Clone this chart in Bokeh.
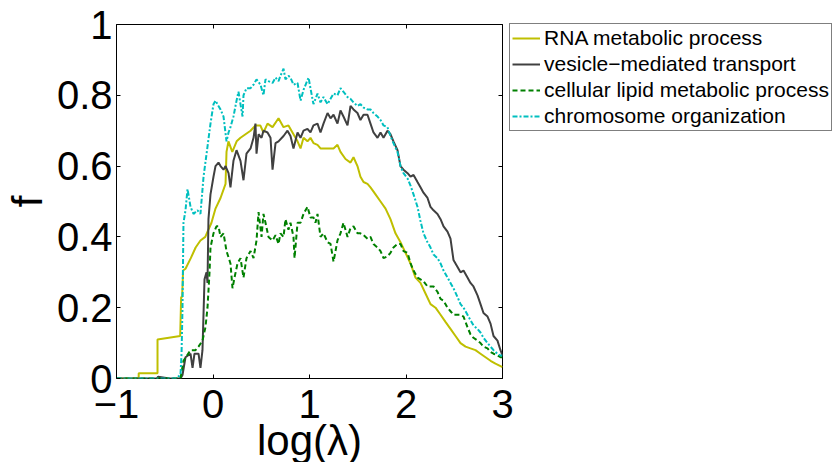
from bokeh.plotting import figure
from bokeh.models import (LinearAxis, FixedTicker, NumeralTickFormatter, Legend,
                          LegendItem, Range1d)
from bokeh.embed import file_html
from bokeh.resources import INLINE

FONT = "Liberation Sans"

# ---------------- data ----------------
series_names = ["RNA metabolic process", "vesicle\u2212mediated transport",
                "cellular lipid metabolic process", "chromosome organization"]
x_label = "log(\u03bb)"
y_label = "f"
x_ticks = [-1, 0, 1, 2, 3]
y_ticks = [0, 0.2, 0.4, 0.6, 0.8, 1]

rna_x = [-1.0, -0.77, -0.77, -0.575, -0.575, -0.34, -0.33, -0.32, -0.31, -0.285,
         -0.23, -0.18, -0.13, -0.08, -0.016, 0.026, 0.078, 0.13, 0.14, 0.16,
         0.20, 0.245, 0.285, 0.337, 0.389, 0.44, 0.49, 0.523, 0.565, 0.617,
         0.679, 0.731, 0.782, 0.834, 0.876, 0.907, 0.938, 0.979, 1.01, 1.041,
         1.083, 1.114, 1.187, 1.249, 1.29, 1.321, 1.373, 1.425, 1.456, 1.497,
         1.528, 1.56, 1.601, 1.632, 1.684, 1.736, 1.788, 1.839, 1.891, 1.943,
         1.995, 2.047, 2.098, 2.15, 2.202, 2.254, 2.306, 2.358, 2.409, 2.461,
         2.513, 2.565, 2.617, 2.668, 2.72, 2.772, 2.824, 2.876, 2.927, 3.0]
rna_y = [0, 0, 0.015, 0.015, 0.11, 0.12, 0.23, 0.23, 0.305, 0.31,
         0.34, 0.37, 0.39, 0.40, 0.44, 0.48, 0.51, 0.55, 0.64, 0.67,
         0.64, 0.67, 0.68, 0.69, 0.70, 0.715, 0.715, 0.695, 0.72, 0.71,
         0.735, 0.71, 0.715, 0.69, 0.67, 0.65, 0.68, 0.67, 0.68, 0.665,
         0.66, 0.65, 0.65, 0.65, 0.66, 0.64, 0.62, 0.61, 0.625, 0.60,
         0.57, 0.555, 0.55, 0.54, 0.52, 0.50, 0.48, 0.45, 0.41, 0.385,
         0.355, 0.325, 0.285, 0.27, 0.24, 0.21, 0.20, 0.18, 0.16, 0.14,
         0.12, 0.10, 0.09, 0.085, 0.08, 0.07, 0.06, 0.05, 0.042, 0.032]

ves_x = [-1.0, -0.58, -0.57, -0.45, -0.337, -0.316, -0.285, -0.233, -0.212, -0.192,
         -0.150, -0.130, -0.109, -0.088, -0.067, -0.057, -0.047, -0.026, 0.005, 0.026,
         0.057, 0.078, 0.109, 0.130, 0.161, 0.181, 0.212, 0.244, 0.285, 0.316,
         0.347, 0.389, 0.420, 0.440, 0.451, 0.472, 0.503, 0.523, 0.565, 0.596,
         0.617, 0.648, 0.679, 0.731, 0.772, 0.803, 0.834, 0.876, 0.907, 0.938,
         0.979, 1.010, 1.041, 1.083, 1.114, 1.145, 1.187, 1.218, 1.249, 1.290,
         1.321, 1.352, 1.394, 1.425, 1.456, 1.497, 1.528, 1.560, 1.601, 1.632,
         1.663, 1.705, 1.736, 1.767, 1.808, 1.839, 1.870, 1.912, 1.943, 1.974,
         2.016, 2.047, 2.078, 2.119, 2.150, 2.181, 2.223, 2.254, 2.285, 2.326,
         2.358, 2.389, 2.430, 2.461, 2.492, 2.534, 2.565, 2.596, 2.637, 2.668,
         2.699, 2.741, 2.772, 2.803, 2.845, 2.876, 2.907, 2.948, 2.979, 3.0]
ves_y = [0, 0, 0.005, 0.0, 0.0, 0.01, 0.06, 0.07, 0.03, 0.07,
         0.07, 0.03, 0.08, 0.28, 0.30, 0.27, 0.45, 0.52, 0.57, 0.60,
         0.61, 0.60, 0.59, 0.60, 0.58, 0.54, 0.615, 0.645, 0.615, 0.56,
         0.635, 0.65, 0.68, 0.72, 0.635, 0.69, 0.68, 0.70, 0.695, 0.68,
         0.59, 0.665, 0.67, 0.685, 0.70, 0.685, 0.65, 0.695, 0.68, 0.70,
         0.705, 0.695, 0.715, 0.72, 0.695, 0.72, 0.75, 0.735, 0.745, 0.72,
         0.757, 0.74, 0.715, 0.77, 0.76, 0.75, 0.73, 0.745, 0.745, 0.72,
         0.695, 0.68, 0.695, 0.68, 0.70, 0.69, 0.67, 0.645, 0.60, 0.59,
         0.58, 0.57, 0.575, 0.555, 0.54, 0.525, 0.51, 0.485, 0.475, 0.465,
         0.45, 0.43, 0.415, 0.395, 0.335, 0.315, 0.30, 0.305, 0.285, 0.27,
         0.26, 0.235, 0.21, 0.185, 0.175, 0.155, 0.12, 0.107, 0.08, 0.065]

lip_x = [-1.0, -0.337, -0.306, -0.233, -0.181, -0.150, -0.109, -0.078, -0.057, -0.036,
         -0.026, 0.005, 0.036, 0.057, 0.078, 0.109, 0.140, 0.181, 0.202, 0.223,
         0.254, 0.285, 0.316, 0.347, 0.389, 0.420, 0.451, 0.472, 0.503, 0.523,
         0.544, 0.575, 0.617, 0.648, 0.679, 0.699, 0.731, 0.751, 0.782, 0.803,
         0.834, 0.845, 0.876, 0.907, 0.938, 0.979, 1.010, 1.041, 1.062, 1.083,
         1.114, 1.145, 1.187, 1.218, 1.249, 1.290, 1.321, 1.352, 1.394, 1.425,
         1.456, 1.497, 1.528, 1.560, 1.601, 1.632, 1.663, 1.705, 1.736, 1.767,
         1.808, 1.839, 1.870, 1.912, 1.943, 1.974, 2.016, 2.047, 2.078, 2.119,
         2.150, 2.181, 2.223, 2.254, 2.285, 2.326, 2.358, 2.389, 2.430, 2.461,
         2.492, 2.534, 2.565, 2.596, 2.637, 2.668, 2.699, 2.741, 2.772, 2.803,
         2.845, 2.876, 2.907, 2.948, 2.979, 3.0]
lip_y = [0, 0, 0.05, 0.08, 0.08, 0.09, 0.107, 0.145, 0.20, 0.30,
         0.37, 0.41, 0.43, 0.43, 0.40, 0.41, 0.36, 0.325, 0.255, 0.285,
         0.325, 0.34, 0.285, 0.34, 0.36, 0.34, 0.39, 0.47, 0.40, 0.465,
         0.44, 0.40, 0.39, 0.405, 0.38, 0.41, 0.40, 0.45, 0.42, 0.44,
         0.40, 0.34, 0.44, 0.44, 0.465, 0.485, 0.455, 0.455, 0.44, 0.465,
         0.40, 0.41, 0.385, 0.38, 0.33, 0.39, 0.41, 0.44, 0.40, 0.425,
         0.43, 0.41, 0.41, 0.405, 0.395, 0.40, 0.38, 0.37, 0.36, 0.34,
         0.345, 0.355, 0.37, 0.38, 0.38, 0.36, 0.355, 0.325, 0.305, 0.285,
         0.28, 0.275, 0.26, 0.26, 0.26, 0.245, 0.225, 0.22, 0.20, 0.19,
         0.18, 0.18, 0.18, 0.175, 0.145, 0.125, 0.115, 0.107, 0.10, 0.09,
         0.085, 0.075, 0.07, 0.065, 0.06, 0.06]

chr_x = [-1.0, -0.389, -0.337, -0.326, -0.316, -0.306, -0.285, -0.264, -0.233, -0.202,
         -0.161, -0.130, -0.098, -0.057, -0.026, 0.005, 0.026, 0.057, 0.078, 0.109,
         0.140, 0.161, 0.181, 0.212, 0.244, 0.264, 0.306, 0.316, 0.347, 0.389,
         0.420, 0.451, 0.492, 0.523, 0.544, 0.575, 0.617, 0.648, 0.679, 0.699,
         0.731, 0.751, 0.782, 0.803, 0.834, 0.876, 0.907, 0.938, 0.990, 1.010,
         1.041, 1.083, 1.114, 1.145, 1.187, 1.218, 1.249, 1.290, 1.321, 1.352,
         1.394, 1.425, 1.456, 1.497, 1.528, 1.560, 1.601, 1.632, 1.663, 1.705,
         1.736, 1.767, 1.808, 1.839, 1.870, 1.912, 1.943, 1.974, 2.016, 2.047,
         2.078, 2.119, 2.150, 2.181, 2.223, 2.254, 2.285, 2.326, 2.358, 2.389,
         2.430, 2.461, 2.492, 2.534, 2.565, 2.596, 2.637, 2.668, 2.699, 2.741,
         2.772, 2.803, 2.845, 2.876, 2.907, 2.948, 2.979, 3.0]
chr_y = [0, 0, 0.01, 0.07, 0.20, 0.44, 0.475, 0.535, 0.485, 0.465,
         0.475, 0.465, 0.57, 0.655, 0.72, 0.775, 0.785, 0.77, 0.76, 0.74,
         0.67, 0.695, 0.71, 0.74, 0.785, 0.81, 0.74, 0.80, 0.82, 0.82,
         0.83, 0.845, 0.83, 0.80, 0.845, 0.84, 0.835, 0.85, 0.84, 0.855,
         0.875, 0.845, 0.855, 0.85, 0.83, 0.835, 0.785, 0.815, 0.85, 0.82,
         0.775, 0.805, 0.78, 0.795, 0.775, 0.79, 0.805, 0.80, 0.82, 0.81,
         0.795, 0.79, 0.78, 0.77, 0.775, 0.765, 0.76, 0.76, 0.75, 0.74,
         0.73, 0.715, 0.71, 0.685, 0.665, 0.64, 0.60, 0.58, 0.565, 0.545,
         0.52, 0.485, 0.445, 0.41, 0.385, 0.37, 0.35, 0.34, 0.325, 0.305,
         0.285, 0.27, 0.255, 0.23, 0.21, 0.20, 0.18, 0.165, 0.15, 0.14,
         0.13, 0.115, 0.10, 0.09, 0.08, 0.07, 0.065, 0.065]

# ---------------- figure ----------------
p = figure(frame_width=386, frame_height=354,
           x_range=Range1d(-1, 3), y_range=Range1d(0, 1),
           min_border_left=116, min_border_right=336,
           min_border_top=24, min_border_bottom=84,
           output_backend="svg", toolbar_location=None)
p.xgrid.visible = False
p.ygrid.visible = False
p.background_fill_color = "white"
p.border_fill_color = "white"
p.outline_line_color = "black"
p.outline_line_width = 1


def style_axis(ax, ticks, labels=True):
    ax.ticker = FixedTicker(ticks=ticks)
    ax.major_tick_in = 4
    ax.major_tick_out = 0
    ax.minor_tick_in = 0
    ax.minor_tick_out = 0
    ax.major_tick_line_color = "black"
    ax.major_tick_line_width = 1
    ax.axis_line_color = None
    ax.major_label_text_font = FONT
    ax.major_label_text_color = "black"
    ax.axis_label_text_font = FONT
    ax.axis_label_text_font_style = "normal"
    ax.axis_label_text_font_size = "42px"
    ax.axis_label_text_color = "black"
    if labels:
        ax.major_label_text_font_size = "40px"
    else:
        ax.major_label_text_font_size = "1px"
        ax.major_label_text_alpha = 0
        ax.major_label_standoff = 0


xa = p.xaxis[0]
style_axis(xa, x_ticks)
xa.major_label_standoff = 11
xa.major_label_overrides = {-1: "\u22121"}
xa.axis_label = x_label
xa.axis_label_standoff = -4
ya = p.yaxis[0]
style_axis(ya, y_ticks)
ya.major_label_standoff = 4
ya.formatter = NumeralTickFormatter(format="0.[0]")
ya.axis_label = y_label
ya.axis_label_standoff = 3

top_ax = LinearAxis()
style_axis(top_ax, x_ticks, labels=False)
p.add_layout(top_ax, "above")
right_ax = LinearAxis()
style_axis(right_ax, y_ticks, labels=False)
p.add_layout(right_ax, "right")

r1 = p.line(rna_x, rna_y, line_color="#BFBF00", line_width=2)
r2 = p.line(ves_x, ves_y, line_color="#404040", line_width=2)
r3 = p.line(lip_x, lip_y, line_color="#008000", line_width=2, line_dash="5 3")
r4 = p.line(chr_x, chr_y, line_color="#00BFBF", line_width=2, line_dash="5 2 2 2")

legend = Legend(items=[LegendItem(label=n, renderers=[r])
                       for n, r in zip(series_names, [r1, r2, r3, r4])],
                location=(-229, 247), margin=0, padding=2, spacing=2,
                glyph_width=28, glyph_height=22, label_height=22,
                label_standoff=4, label_text_font=FONT,
                label_text_font_size="21px", label_text_color="black",
                border_line_color="black", border_line_width=1,
                background_fill_color="white", background_fill_alpha=1)
p.add_layout(legend, "right")

open("out.html", "w").write(file_html(p, INLINE))
